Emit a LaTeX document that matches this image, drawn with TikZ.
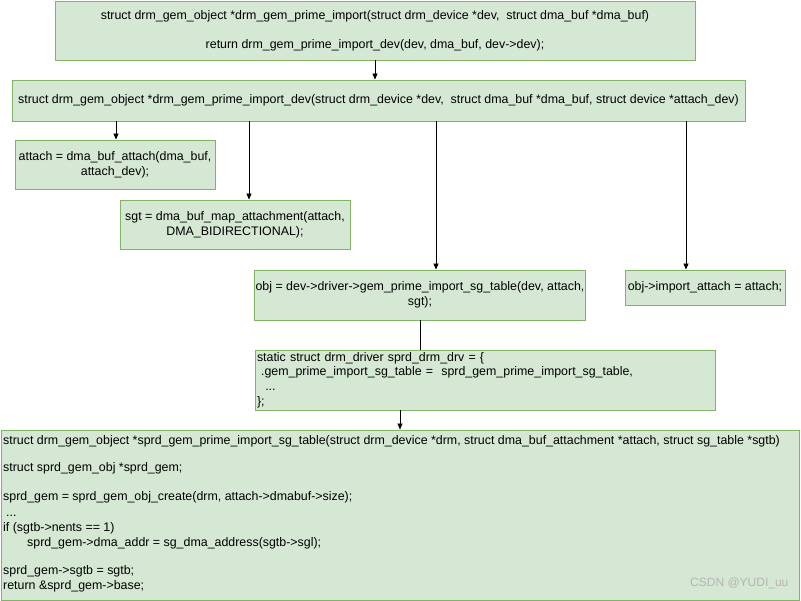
\documentclass[tikz,border=0pt]{standalone}
\usepackage{fontspec}
\setmainfont{Liberation Sans}
\usetikzlibrary{arrows.meta}
\definecolor{gfill}{HTML}{D5E8D4}
\definecolor{gline}{HTML}{82B366}
\definecolor{wmark}{HTML}{B4B4B4}
\begin{document}
\begin{tikzpicture}[x=1pt,y=-1pt,
  font=\fontsize{12.4}{14.6}\selectfont,
  box/.style={draw=gline, fill=gfill, line width=0.9pt, inner sep=1pt, align=center},
  arr/.style={-{Triangle[length=6pt,width=5pt]}, line width=0.8pt},
  plain/.style={line width=0.8pt},
  txt/.style={anchor=west, inner sep=0pt, text height=8.5pt, text depth=2.7pt}]
\useasboundingbox (0,0) rectangle (801,601);

\node[box, minimum width=640pt, minimum height=59pt] (top) at (375,30.5)
  {struct drm\_gem\_object *drm\_gem\_prime\_import(struct drm\_device *dev,\ \ struct dma\_buf *dma\_buf)\\[14.4pt]
   return drm\_gem\_prime\_import\_dev(dev, dma\_buf, dev->dev);};

\node[box, minimum width=733pt, minimum height=41pt] (dev) at (378.5,100.5)
  {struct drm\_gem\_object *drm\_gem\_prime\_import\_dev(struct drm\_device *dev,\ \ struct dma\_buf *dma\_buf, struct device *attach\_dev)};

\node[box, minimum width=200pt, minimum height=49pt] (attach) at (115,164.5)
  {attach = dma\_buf\_attach(dma\_buf,\\attach\_dev);};

\node[box, minimum width=230pt, minimum height=49pt] (sgt) at (235,224.5)
  {sgt = dma\_buf\_map\_attachment(attach,\\DMA\_BIDIRECTIONAL);};

\node[box, minimum width=330pt, minimum height=50pt] (obj) at (420,295)
  {obj = dev->driver->gem\_prime\_import\_sg\_table(dev, attach,\\sgt);};

\node[box, minimum width=160pt, minimum height=35pt] (imp) at (705,287.5)
  {obj->import\_attach = attach;};

\node[box, text width=456pt, inner xsep=2pt, minimum height=60pt, align=left] (drv) at (485,380)
  {static struct drm\_driver sprd\_drm\_drv = \{\\
   \ .gem\_prime\_import\_sg\_table = \ sprd\_gem\_prime\_import\_sg\_table,\\
   \ \ ...\\
   \};};

\node[box, minimum width=798pt, minimum height=170pt] (big) at (400,515) {};
\node[txt] (l1) at (3,442) {struct drm\_gem\_object *sprd\_gem\_prime\_import\_sg\_table(struct drm\_device *drm, struct dma\_buf\_attachment *attach, struct sg\_table *sgtb)};
\node[txt] (l2) at (3,469) {struct sprd\_gem\_obj *sprd\_gem;};
\node[txt] (l3) at (3,498) {sprd\_gem = sprd\_gem\_obj\_create(drm, attach->dmabuf->size);};
\node[txt] (l4) at (6,514) {...};
\node[txt] (l5) at (3,529) {if (sgtb->nents == 1)};
\node[txt] (l6) at (27,544) {sprd\_gem->dma\_addr = sg\_dma\_address(sgtb->sgl);};
\node[txt] (l7) at (3,572) {sprd\_gem->sgtb = sgtb;};
\node[txt] (l8) at (3,587) {return \&sprd\_gem->base;};
\node[txt, text=wmark, font=\fontsize{12}{14}\selectfont] (wm) at (690,584) {CSDN @YUDI\_uu};

\draw[arr] (top.south) -- (top.south |- dev.north);
\draw[arr] ([xshift=1pt]attach.north |- dev.south) -- ([xshift=1pt]attach.north);
\draw[arr] ([xshift=14pt]sgt.north |- dev.south) -- ([xshift=14pt]sgt.north);
\draw[arr] ([xshift=16pt]obj.north |- dev.south) -- ([xshift=16pt]obj.north);
\draw[arr] ([xshift=-19pt]imp.north |- dev.south) -- ([xshift=-19pt]imp.north);
\draw[plain] (obj.south) -- (obj.south |- drv.north);
\draw[arr] (big.north |- drv.south) -- (big.north);
\end{tikzpicture}
\end{document}
